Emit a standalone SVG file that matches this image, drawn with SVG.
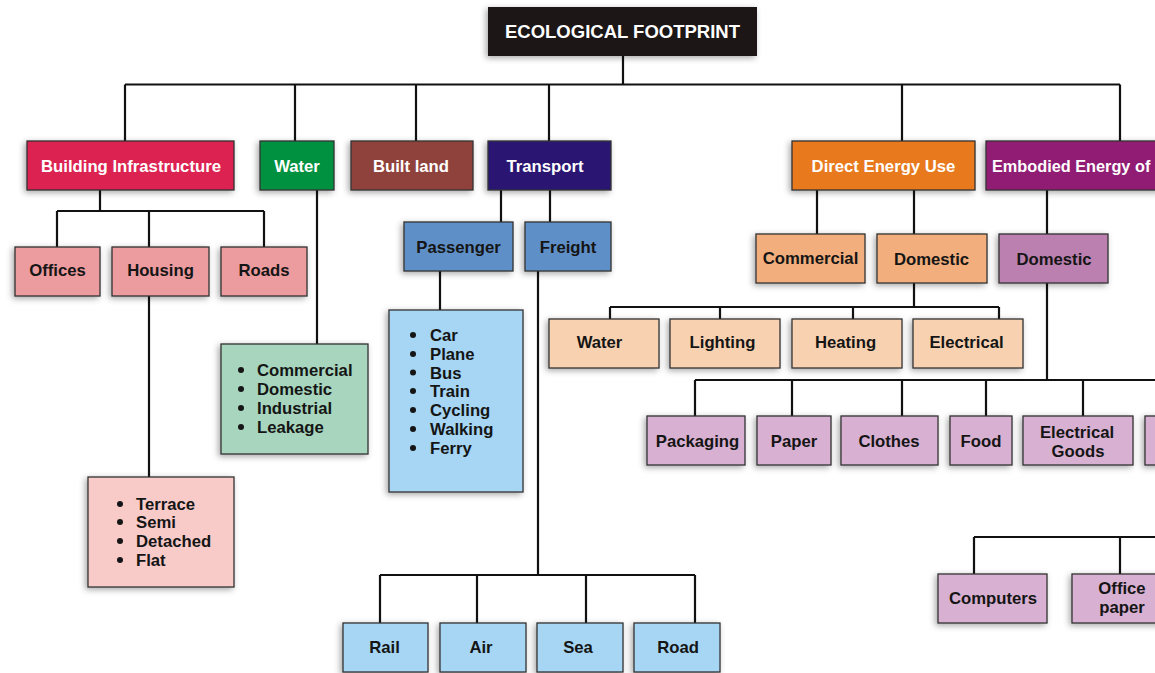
<svg xmlns="http://www.w3.org/2000/svg" width="1155" height="673" viewBox="0 0 1155 673">
  <defs>
    <filter id="shadow" x="-20%" y="-30%" width="140%" height="170%">
      <feDropShadow dx="-2" dy="2" stdDeviation="3" flood-color="#000" flood-opacity="0.35"/>
    </filter>
    <style>
      .box { stroke: #333; stroke-width: 1.3; filter: url(#shadow); }
      .lbl { font-family: "Liberation Sans", Arial, sans-serif; font-weight: bold; font-size: 16.7px; text-anchor: middle; fill: #151515; }
      .top { fill: #ffffff; }
      .list { font-family: "Liberation Sans", Arial, sans-serif; font-weight: bold; font-size: 16.7px; fill: #151515; }
      .dot { fill: #151515; }
      .wire { stroke: #111; stroke-width: 2.2; fill: none; }
      .pink { fill: #ec9b9e; }
      .blush { fill: #f8cbc9; }
      .mint { fill: #a7d5bd; }
      .steel { fill: #5f8fc7; }
      .sky { fill: #a6d6f4; }
      .apricot { fill: #f2ae7c; }
      .peach { fill: #f8d2b0; }
      .mauve { fill: #bb80af; }
      .lilac { fill: #d8b0d1; }
    </style>
  </defs>
  <rect width="1155" height="673" fill="#ffffff"/>

  <!-- connectors -->
  <g id="connectors" class="wire">
    <path d="M623 56V84.5M125 84.5H1120M125 84.5V141M295 84.5V141M416 84.5V141M549 84.5V141M902 84.5V141M1120 84.5V141"/>
    <path d="M100 190V211M57 211H264M57 211V247M149 211V247M264 211V247"/>
    <path d="M149 296V477"/>
    <path d="M317 190V344"/>
    <path d="M501 190V222M550 190V222"/>
    <path d="M440 271V310"/>
    <path d="M538 271V575M380 575H695M380 575V623M477 575V623M586 575V623M695 575V623"/>
    <path d="M817 190V234M914 190V234M1047 190V234"/>
    <path d="M914 283V307M610 307H999M610 307V319M720 307V319M853 307V319M999 307V319"/>
    <path d="M1047 283V380M695 380H1155M695 380V416M792 380V416M902 380V416M986 380V416M1083 380V416"/>
    <path d="M974 537H1155M974 537V574M1120 537V574"/>
  </g>

  <!-- root -->
  <g id="ecological-footprint">
    <rect x="488" y="7" width="269" height="49" fill="#1c1616" filter="url(#shadow)"/>
    <text x="622.5" y="38" class="lbl top" style="font-size:18.5px">ECOLOGICAL FOOTPRINT</text>
  </g>

  <!-- first level -->
  <g id="building-infrastructure">
    <rect x="27" y="141" width="207" height="49" class="box" fill="#dc2251"/>
    <text x="131" y="172" class="lbl top">Building Infrastructure</text>
  </g>
  <g id="water">
    <rect x="260" y="141" width="74" height="49" class="box" fill="#009140"/>
    <text x="297" y="172" class="lbl top">Water</text>
  </g>
  <g id="built-land">
    <rect x="351" y="141" width="122" height="49" class="box" fill="#8f433b"/>
    <text x="411" y="172" class="lbl top">Built land</text>
  </g>
  <g id="transport">
    <rect x="488" y="141" width="123" height="49" class="box" fill="#2a1772"/>
    <text x="545" y="172" class="lbl top">Transport</text>
  </g>
  <g id="direct-energy-use">
    <rect x="792" y="141" width="183" height="49" class="box" fill="#e8791b"/>
    <text x="883.5" y="172" class="lbl top">Direct Energy Use</text>
  </g>
  <g id="embodied-energy">
    <rect x="986" y="141" width="200" height="49" class="box" fill="#901c73"/>
    <text x="992" y="172" class="lbl top" style="text-anchor:start;font-size:16.3px">Embodied Energy of</text>
  </g>

  <!-- building infrastructure branch -->
  <g id="offices">
    <rect x="15" y="247" width="85" height="49" class="box pink"/>
    <text x="57.5" y="276" class="lbl">Offices</text>
  </g>
  <g id="housing">
    <rect x="112" y="247" width="97" height="49" class="box pink"/>
    <text x="160.5" y="276" class="lbl">Housing</text>
  </g>
  <g id="roads">
    <rect x="221" y="247" width="86" height="49" class="box pink"/>
    <text x="264" y="276" class="lbl">Roads</text>
  </g>
  <g id="housing-types">
    <rect x="88" y="477" width="146" height="110" class="box blush"/>
    <g class="dot"><circle cx="120" cy="504" r="3"/><circle cx="120" cy="522" r="3"/><circle cx="120" cy="541" r="3"/><circle cx="120" cy="560" r="3"/></g>
    <text class="list"><tspan x="136" y="510">Terrace</tspan><tspan x="136" y="528">Semi</tspan><tspan x="136" y="547">Detached</tspan><tspan x="136" y="566">Flat</tspan></text>
  </g>

  <!-- water branch -->
  <g id="water-uses">
    <rect x="221" y="344" width="147" height="110" class="box mint"/>
    <g class="dot"><circle cx="241" cy="370" r="3"/><circle cx="241" cy="389" r="3"/><circle cx="241" cy="408" r="3"/><circle cx="241" cy="427" r="3"/></g>
    <text class="list"><tspan x="257" y="376">Commercial</tspan><tspan x="257" y="395">Domestic</tspan><tspan x="257" y="414">Industrial</tspan><tspan x="257" y="433">Leakage</tspan></text>
  </g>

  <!-- transport branch -->
  <g id="passenger">
    <rect x="404" y="222" width="109" height="49" class="box steel"/>
    <text x="458.5" y="253" class="lbl">Passenger</text>
  </g>
  <g id="freight">
    <rect x="525" y="222" width="86" height="49" class="box steel"/>
    <text x="568" y="253" class="lbl">Freight</text>
  </g>
  <g id="passenger-modes">
    <rect x="389" y="310" width="134" height="182" class="box sky"/>
    <g class="dot"><circle cx="413" cy="335" r="3"/><circle cx="413" cy="354" r="3"/><circle cx="413" cy="372.5" r="3"/><circle cx="413" cy="391" r="3"/><circle cx="413" cy="410" r="3"/><circle cx="413" cy="429" r="3"/><circle cx="413" cy="448" r="3"/></g>
    <text class="list"><tspan x="430" y="341">Car</tspan><tspan x="430" y="360">Plane</tspan><tspan x="430" y="378.5">Bus</tspan><tspan x="430" y="397">Train</tspan><tspan x="430" y="416">Cycling</tspan><tspan x="430" y="435">Walking</tspan><tspan x="430" y="454">Ferry</tspan></text>
  </g>
  <g id="rail">
    <rect x="343" y="623" width="85" height="49" class="box sky"/>
    <text x="384.5" y="653" class="lbl">Rail</text>
  </g>
  <g id="air">
    <rect x="440" y="623" width="86" height="49" class="box sky"/>
    <text x="481" y="653" class="lbl">Air</text>
  </g>
  <g id="sea">
    <rect x="537" y="623" width="86" height="49" class="box sky"/>
    <text x="578" y="653" class="lbl">Sea</text>
  </g>
  <g id="road">
    <rect x="634" y="623" width="86" height="49" class="box sky"/>
    <text x="678" y="653" class="lbl">Road</text>
  </g>

  <!-- direct energy branch -->
  <g id="commercial">
    <rect x="756" y="234" width="109" height="49" class="box apricot"/>
    <text x="810.5" y="264" class="lbl">Commercial</text>
  </g>
  <g id="domestic-direct">
    <rect x="877" y="234" width="110" height="49" class="box apricot"/>
    <text x="931.5" y="265" class="lbl">Domestic</text>
  </g>
  <g id="water-use">
    <rect x="549" y="319" width="110" height="49" class="box peach"/>
    <text x="599.5" y="348" class="lbl">Water</text>
  </g>
  <g id="lighting">
    <rect x="670" y="319" width="110" height="49" class="box peach"/>
    <text x="722.5" y="348" class="lbl">Lighting</text>
  </g>
  <g id="heating">
    <rect x="792" y="319" width="110" height="49" class="box peach"/>
    <text x="845.5" y="348" class="lbl">Heating</text>
  </g>
  <g id="electrical">
    <rect x="913" y="319" width="110" height="49" class="box peach"/>
    <text x="966.5" y="348" class="lbl">Electrical</text>
  </g>

  <!-- embodied energy branch -->
  <g id="domestic-embodied">
    <rect x="999" y="234" width="109" height="49" class="box mauve"/>
    <text x="1054" y="265" class="lbl">Domestic</text>
  </g>
  <g id="packaging">
    <rect x="647" y="416" width="98" height="49" class="box lilac"/>
    <text x="697.5" y="447" class="lbl">Packaging</text>
  </g>
  <g id="paper">
    <rect x="757" y="416" width="74" height="49" class="box lilac"/>
    <text x="794" y="447" class="lbl">Paper</text>
  </g>
  <g id="clothes">
    <rect x="841" y="416" width="97" height="49" class="box lilac"/>
    <text x="889" y="447" class="lbl">Clothes</text>
  </g>
  <g id="food">
    <rect x="950" y="416" width="62" height="49" class="box lilac"/>
    <text x="981" y="447" class="lbl">Food</text>
  </g>
  <g id="electrical-goods">
    <rect x="1023" y="416" width="110" height="49" class="box lilac"/>
    <text class="lbl"><tspan x="1077" y="438">Electrical</tspan><tspan x="1078" y="457">Goods</tspan></text>
  </g>
  <g id="embodied-more">
    <rect x="1145" y="416" width="60" height="49" class="box lilac"/>
  </g>
  <g id="computers">
    <rect x="938" y="574" width="109" height="49" class="box lilac"/>
    <text x="993" y="604" class="lbl">Computers</text>
  </g>
  <g id="office-paper">
    <rect x="1072" y="574" width="100" height="49" class="box lilac"/>
    <text class="lbl"><tspan x="1122" y="594">Office</tspan><tspan x="1122" y="613">paper</tspan></text>
  </g>
</svg>
